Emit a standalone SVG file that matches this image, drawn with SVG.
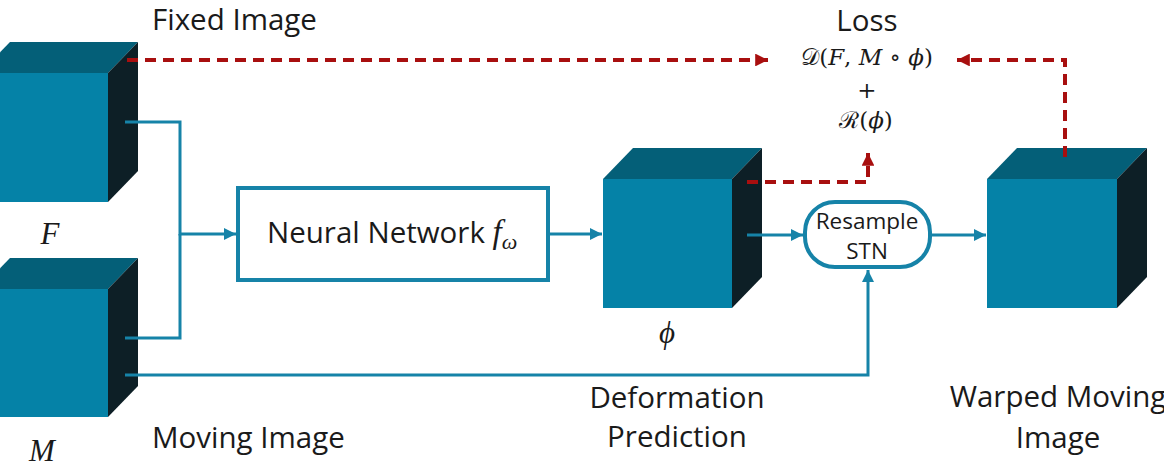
<svg xmlns="http://www.w3.org/2000/svg" width="1164" height="466" viewBox="0 0 1164 466">
<defs>
<style>
.front{fill:#0582a7}
.top{fill:#045f78}
.side{fill:#0d1f26}
.lbl{font-family:"Open Sans","Noto Sans",sans-serif;font-size:29.5px;fill:#1a1a1a}
.small{font-size:22.5px}
.math{font-family:"Liberation Serif","DejaVu Serif",serif;font-style:italic;fill:#1a1a1a}
.mathr{font-family:"DejaVu Serif","Liberation Serif",serif;fill:#1a1a1a}
.blue{stroke:#1683a8;stroke-width:3;fill:none}
.red{stroke:#a80f0f;stroke-width:4;fill:none;stroke-dasharray:11 7}
.box{fill:#fff;stroke:#1683a8;stroke-width:4}
</style>
<marker id="ab" viewBox="0 0 10 10" refX="10" refY="5" markerWidth="4" markerHeight="4" orient="auto" markerUnits="strokeWidth"><path d="M0,0 L10,5 L0,10 z" fill="#1683a8"/></marker>
<marker id="ar" viewBox="0 0 10 10" refX="10" refY="5" markerWidth="3.2" markerHeight="3.2" orient="auto" markerUnits="strokeWidth"><path d="M0,0 L10,5 L0,10 z" fill="#a80f0f"/></marker>
</defs>
<rect width="1164" height="466" fill="#fff"/>

<g id="cube-F">
<rect class="front" x="-20" y="73" width="128" height="129"/>
<polygon class="top" points="-20,73 10,42 138,42 108,73"/>
<polygon class="side" points="108,73 138,42 138,171 108,202"/>
<text class="math" x="50" y="244" font-size="31" text-anchor="middle">F</text>
<text class="lbl" x="152" y="30">Fixed Image</text>
</g>

<g id="cube-M">
<rect class="front" x="-20" y="289" width="128" height="128"/>
<polygon class="top" points="-20,289 10,258 138,258 108,289"/>
<polygon class="side" points="108,289 138,258 138,386 108,417"/>
<text class="math" x="42" y="461" font-size="31" text-anchor="middle">M</text>
<text class="lbl" x="152" y="448">Moving Image</text>
</g>

<g id="neural-network">
<rect class="box" x="238" y="188" width="310" height="92"/>
<text class="lbl" x="267" y="243">Neural Network <tspan class="math" font-size="33">f</tspan><tspan class="math" font-size="22" dy="6">ω</tspan></text>
</g>

<g id="cube-phi">
<rect class="front" x="603" y="179" width="129" height="129"/>
<polygon class="top" points="603,179 633,148 762,148 732,179"/>
<polygon class="side" points="732,179 762,148 762,277 732,308"/>
<text class="math" x="667" y="343" font-size="31" text-anchor="middle">ϕ</text>
<text class="lbl" x="677" y="408" text-anchor="middle">Deformation</text>
<text class="lbl" x="677" y="447" text-anchor="middle">Prediction</text>
</g>

<g id="resample-stn">
<rect class="box" x="805" y="202" width="125" height="65" rx="30" ry="30"/>
<text class="lbl small" x="867" y="229" text-anchor="middle">Resample</text>
<text class="lbl small" x="867" y="259" text-anchor="middle">STN</text>
</g>

<g id="cube-warped">
<rect class="front" x="987" y="179" width="130" height="129"/>
<polygon class="top" points="987,179 1017,148 1147,148 1117,179"/>
<polygon class="side" points="1117,179 1147,148 1147,277 1117,308"/>
<text class="lbl" x="1058" y="407" text-anchor="middle">Warped Moving</text>
<text class="lbl" x="1058" y="448" text-anchor="middle">Image</text>
</g>

<g id="loss">
<text class="lbl" x="867" y="31" text-anchor="middle">Loss</text>
<text class="mathr" x="867" y="65" font-size="23" text-anchor="middle">𝒟(<tspan font-style="italic">F</tspan>, <tspan font-style="italic">M</tspan> ∘ <tspan font-style="italic">ϕ</tspan>)</text>
<text class="mathr" x="867" y="98" font-size="23" text-anchor="middle">+</text>
<text class="mathr" x="866" y="128" font-size="23" text-anchor="middle">ℛ(<tspan font-style="italic">ϕ</tspan>)</text>
</g>

<g id="connectors">
<path class="blue" d="M125,122 H180 V234 H236" marker-end="url(#ab)"/>
<path class="blue" d="M125,338 H180 V234"/>
<path class="blue" d="M125,375 H868 V270" marker-end="url(#ab)"/>
<path class="blue" d="M550,234 H602" marker-end="url(#ab)"/>
<path class="blue" d="M747,235 H803" marker-end="url(#ab)"/>
<path class="blue" d="M932,235 H986" marker-end="url(#ab)"/>
<path class="red" d="M127,60 H768" marker-end="url(#ar)"/>
<path class="red" d="M1065,157 V60 H957" marker-end="url(#ar)"/>
<path class="red" d="M747,182 H868 V153" marker-end="url(#ar)"/>
</g>
</svg>
